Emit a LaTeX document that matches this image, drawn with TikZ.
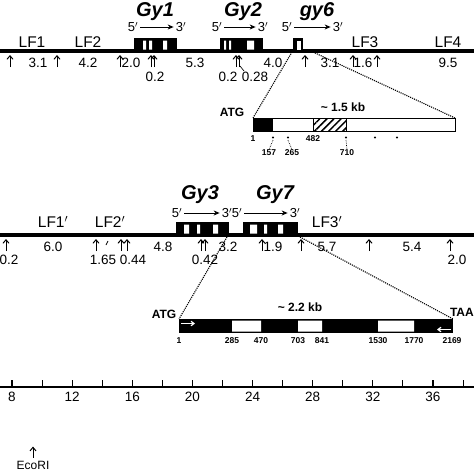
\documentclass[tikz,border=0pt]{standalone}
\usepackage{fontspec}
\setmainfont{Liberation Sans}
\usetikzlibrary{arrows.meta, patterns.meta, positioning}
\tikzset{
  mapline/.style={line width=3.2pt},
  site/.style={-{Straight Barb[length=3.5pt,width=6pt]}, line width=1pt},
  frag/.style={font=\fontsize{15.5}{15.5}\selectfont, inner sep=0pt},
  len/.style={font=\fontsize{13.5}{13.5}\selectfont, inner sep=0pt},
  gname/.style={font=\fontsize{20}{20}\selectfont\bfseries\itshape, inner sep=0pt},
  prime/.style={font=\fontsize{13}{13}\selectfont, inner sep=0pt},
  tag/.style={font=\fontsize{12}{12}\selectfont\bfseries, inner sep=0pt},
  posnum/.style={font=\fontsize{8.5}{8.5}\selectfont\bfseries, inner sep=0pt},
  zoomline/.style={densely dotted, line width=1.1pt},
  dir/.style={-{Stealth[length=6pt,width=5pt]}, line width=1pt},
}

\begin{document}
\begin{tikzpicture}[x=1pt, y=-1pt]
\useasboundingbox (0,0) rectangle (474,474);

% ---- upper locus ----
\draw[mapline] (0,51) -- (474,51);
\node[frag] (lf1) at (32,42) {LF1};
\node[frag] (lf2) at (88,42) {LF2};
\node[frag] (lf3) at (365,42) {LF3};
\node[frag] (lf4) at (448,42) {LF4};

% genes
\fill (134,38) rectangle (177,51);
\fill[white] (143,40.5) rectangle (146,49.5) (149,40.5) rectangle (152,49.5) (163,40.5) rectangle (167,49.5);
\fill (220,38) rectangle (263,51);
\fill[white] (224,40.5) rectangle (226,49.5) (229,40.5) rectangle (231,49.5) (247,40.5) rectangle (254,49.5);
\fill (293,38) rectangle (303,51);
\fill[white] (297,40.5) rectangle (301,49.5);

\node[gname] (gy1) at (155,12) {Gy1};
\node[gname] (gy2) at (243,12) {Gy2};
\node[gname] (gy6) at (317,12) {gy6};
\foreach \nm/\a/\b in {ga/133/181, gb/217/263, gc/287/338} {
  \node[prime] (\nm5) at (\a,27) {5$'$};
  \node[prime] (\nm3) at (\b,27) {3$'$};
  \draw[dir] (\nm5.east) ++(2,0) -- ([xshift=-2pt]\nm3.west);
}

% restriction sites
\foreach \x in {10,57,120,151,154,236,239,305,353,377}
  \draw[site] (\x,67) -- (\x,55);
\foreach \t/\x/\y [count=\i] in {3.1/38/63, 4.2/88/63, 2.0/131/63, 0.2/155/77, 5.3/195/63,
    0.2/228/77, 0.28/255/77, 4.0/273/63, 3.1/330/63, 1.6/363/63, 9.5/448/63}
  \node[len] (ua\i) at (\x,\y) {\t};
\draw[line width=0.7pt] (240,66) -- (244,71);

% gy6 detail
\coordinate (za) at (292,52);
\coordinate (zb) at (313,52);
\draw[line width=0.9pt] (253,118) rectangle (455,131);
\fill (253,118) rectangle (273,131);
\draw[line width=0.9pt, pattern={Lines[angle=45,distance=5pt,line width=1.5pt]}] (313,118) rectangle (346,131);
\coordinate (ba) at (253,118);
\coordinate (bb) at (455,118);
\draw[zoomline] (za) -- (ba);
\draw[zoomline] (zb) -- (bb);
\node[tag] (atg1) at (232,112) {ATG};
\node[tag] (kb1) at (343,107) {\textasciitilde\ 1.5 kb};
\node[posnum] (p1) at (253,139) {1};
\node[posnum] (p482) at (313,139) {482};
\foreach \x [count=\i] in {273,288,346,375,397}
  \fill (\x,137.5) circle (1.1pt);
\node[posnum] (p157) at (269,153) {157};
\node[posnum] (p265) at (292,153) {265};
\node[posnum] (p710) at (347,153) {710};
\draw[densely dotted, line width=0.7pt] (273,140) -- (p157.north);
\draw[densely dotted, line width=0.7pt] (288,140) -- (p265.north);
\draw[densely dotted, line width=0.7pt] (346,140) -- (p710.north);

% ---- lower locus ----
\draw[mapline] (0,235) -- (474,235);
\node[frag] (lf1b) at (53,222) {LF1$'$};
\node[frag] (lf2b) at (110,222) {LF2$'$};
\node[frag] (lf3b) at (327,222) {LF3$'$};

\fill (176,222) rectangle (229,235);
\fill[white] (184,224.5) rectangle (189,233.5) (197,224.5) rectangle (200,233.5) (213,224.5) rectangle (218,233.5);
\fill (243,222) rectangle (298,235);
\fill[white] (250,224.5) rectangle (257,233.5) (264,224.5) rectangle (267,233.5) (278,224.5) rectangle (283,233.5);

\node[gname] (gy3) at (200,195) {Gy3};
\node[gname] (gy7) at (275,195) {Gy7};
\foreach \nm/\a/\b in {gd/177/227, ge/237/295} {
  \node[prime] (\nm5) at (\a,213) {5$'$};
  \node[prime] (\nm3) at (\b,213) {3$'$};
  \draw[dir] (\nm5.east) ++(2,0) -- ([xshift=-2pt]\nm3.west);
}

\foreach \x in {6,96,121,127,201,205,262,301,369,450}
  \draw[site] (\x,251) -- (\x,239);
\foreach \t/\x/\y [count=\i] in {0.2/9/260, 6.0/53/247, 1.65/103/260, 0.44/133/260, 4.8/163/247,
    0.42/205/260, 3.2/228/247, 1.9/273/247, 5.7/327/247, 5.4/412/247, 2.0/457/260}
  \node[len] (la\i) at (\x,\y) {\t};
\draw[line width=0.7pt] (106,245) -- (108,241);

% Gy7 detail
\coordinate (zc) at (227,237);
\coordinate (zd) at (300,237);
\coordinate (bc) at (179,319);
\coordinate (bd) at (453,319);
\fill (179,319) rectangle (453,333);
\fill[white] (232,320.5) rectangle (261,331.5) (298,320.5) rectangle (322,331.5) (378,320.5) rectangle (414,331.5);
\draw[zoomline] (zc) -- (bc);
\draw[zoomline] (zd) -- (bd);
\draw[white, line width=1.2pt, -{Straight Barb[length=3pt,width=4.5pt]}] (181,323.5) -- (195,323.5);
\draw[white, line width=1.2pt, -{Straight Barb[length=3pt,width=4.5pt]}] (451,329.5) -- (437,329.5);
\node[tag] (atg2) at (164,314) {ATG};
\node[tag, anchor=east] (taa) at (474,312) {TAA};
\node[tag] (kb2) at (300,307) {\textasciitilde\ 2.2 kb};
\foreach \t/\x [count=\i] in {1/179, 285/232, 470/261, 703/298, 841/322, 1530/378, 1770/414, 2169/452}
  \node[posnum] (q\i) at (\x,341) {\t};

% ---- scale ----
\draw[line width=1.1pt] (0,387) -- (474,387);
\foreach \k in {0,...,15}
  \draw[line width=1.1pt] (12+30.07*\k,387) -- (12+30.07*\k,380);
\foreach \v [count=\i from 0] in {8,12,16,20,24,28,32,36}
  \node[len] (s\v) at (12+60.14*\i,397) {\v};

\node[len, font=\fontsize{12}{12}\selectfont] (ecori) at (33,465) {EcoRI};
\draw[site] (ecori.north) ++(0,-3) -- ++(0,-11);
\end{tikzpicture}
\end{document}
